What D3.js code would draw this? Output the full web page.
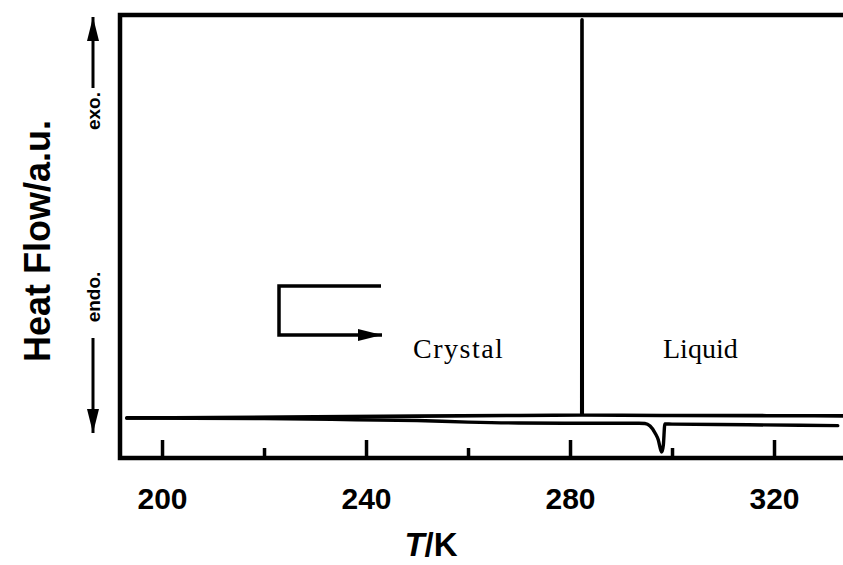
<!DOCTYPE html>
<html>
<head>
<meta charset="utf-8">
<script src="https://cdn.jsdelivr.net/npm/d3@7/dist/d3.min.js"></script>
<style>
  html, body { margin: 0; padding: 0; background: #fff; }
  svg { display: block; }
</style>
</head>
<body>
<svg id="chart" width="843" height="565"></svg>
<script>
// DSC trace: cooling run (freezing exotherm) and heating run (melting endotherm)
const majorTicks = [200, 240, 280, 320];
const minorTicks = [220, 260, 300];

const coolingT  = [193.1, 210, 230, 250, 270, 282.3, 282.35, 282.4, 300, 320, 336];
const coolingHF = [9.05, 9.15, 9.3, 9.45, 9.6, 9.7, 98.9, 9.7, 9.6, 9.55, 9.5];

const heatingT  = [193.1, 220, 238, 250, 260, 270, 285, 293.5, 294.7, 295.7, 296.7, 297.3, 297.8, 298.0, 298.3, 298.6, 300, 315, 332.5];
const heatingHF = [9.0, 8.9, 8.65, 8.45, 8.1, 7.9, 7.85, 7.85, 7.8, 7.2, 5.6, 4.1, 1.8, 1.35, 2.9, 7.7, 7.65, 7.5, 7.3];

const svg = d3.select("#chart");

const plotL = 120, plotR = 850, plotT = 15, plotB = 458;
const x = d3.scaleLinear().domain([191.76, 334.9]).range([plotL, plotR]);
const y = d3.scaleLinear().domain([0, 100]).range([plotB, plotT]);

const line = d3.line()
  .x(d => x(d[0]))
  .y(d => y(d[1]))
  .curve(d3.curveMonotoneX);

const cooling = coolingT.map((t, i) => [t, coolingHF[i]]);
const heating = heatingT.map((t, i) => [t, heatingHF[i]]);

// traces
svg.append("path").datum(cooling)
  .attr("d", line).attr("fill", "none").attr("stroke", "#000")
  .attr("stroke-width", 3.6).attr("stroke-linecap", "round").attr("stroke-linejoin", "round");
svg.append("path").datum(heating)
  .attr("d", line).attr("fill", "none").attr("stroke", "#000")
  .attr("stroke-width", 3.4).attr("stroke-linecap", "round").attr("stroke-linejoin", "round");

// bottom axis with inward ticks
const axisMajor = d3.axisBottom(x).tickValues(majorTicks).tickSize(-18).tickPadding(30).tickFormat(d3.format("d"));
const gMajor = svg.append("g").attr("transform", `translate(0,${plotB})`).call(axisMajor);
gMajor.select(".domain").remove();
gMajor.selectAll(".tick line").attr("stroke", "#000").attr("stroke-width", 3.5);
gMajor.selectAll(".tick text")
  .attr("fill", "#000")
  .style("font-family", "'Liberation Sans', Arial, sans-serif")
  .style("font-weight", "bold")
  .style("font-size", "30px");

const axisMinor = d3.axisBottom(x).tickValues(minorTicks).tickSize(-10).tickFormat("");
const gMinor = svg.append("g").attr("transform", `translate(0,${plotB})`).call(axisMinor);
gMinor.select(".domain").remove();
gMinor.selectAll(".tick line").attr("stroke", "#000").attr("stroke-width", 3.5);

// frame
svg.append("rect")
  .attr("x", plotL).attr("y", plotT)
  .attr("width", plotR - plotL).attr("height", plotB - plotT)
  .attr("fill", "none").attr("stroke", "#000").attr("stroke-width", 4.5);

// axis titles
const xt = svg.append("text")
  .attr("x", 431).attr("y", 556)
  .attr("text-anchor", "middle")
  .style("font-family", "'Liberation Sans', Arial, sans-serif")
  .style("font-weight", "bold")
  .style("font-size", "33px");
xt.append("tspan").style("font-style", "italic").text("T");
xt.append("tspan").text("/K");

svg.append("text")
  .attr("transform", "translate(50,241) rotate(-90)")
  .attr("text-anchor", "middle")
  .style("font-family", "'Liberation Sans', Arial, sans-serif")
  .style("font-weight", "bold")
  .style("font-size", "36px")
  .text("Heat Flow/a.u.");

// arrowhead shared by the direction arrows
svg.append("defs").append("marker")
  .attr("id", "tip").attr("viewBox", "0 0 24 12")
  .attr("refX", 24).attr("refY", 6)
  .attr("markerWidth", 24).attr("markerHeight", 12)
  .attr("markerUnits", "userSpaceOnUse")
  .attr("orient", "auto")
  .append("path").attr("d", "M0,0 L24,6 L0,12 Z").attr("fill", "#000");

const dirFont = sel => sel
  .attr("text-anchor", "middle")
  .style("font-family", "'Liberation Sans', Arial, sans-serif")
  .style("font-weight", "bold")
  .style("font-size", "19px");

// exo / endo direction markers
svg.append("text").attr("transform", "translate(100,111) rotate(-90)").call(dirFont).text("exo.");
svg.append("text").attr("transform", "translate(100,297) rotate(-90)").call(dirFont).text("endo.");

svg.append("line").attr("x1", 93).attr("x2", 93).attr("y1", 88).attr("y2", 17)
  .attr("stroke", "#000").attr("stroke-width", 3).attr("marker-end", "url(#tip)");
svg.append("line").attr("x1", 93).attr("x2", 93).attr("y1", 338).attr("y2", 433)
  .attr("stroke", "#000").attr("stroke-width", 3).attr("marker-end", "url(#tip)");

// cooling-direction bracket arrow
svg.append("path")
  .attr("d", "M381,286 H279 V335 H382")
  .attr("fill", "none").attr("stroke", "#000").attr("stroke-width", 3.5)
  .attr("marker-end", "url(#tip)");

// phase labels
const phaseFont = sel => sel
  .style("font-family", "'Liberation Serif', 'Times New Roman', serif")
  .style("font-size", "28px");
svg.append("text").attr("x", 413).attr("y", 358).call(phaseFont)
  .style("letter-spacing", "1.5px").text("Crystal");
svg.append("text").attr("x", 663).attr("y", 358).call(phaseFont).text("Liquid");
</script>
</body>
</html>
